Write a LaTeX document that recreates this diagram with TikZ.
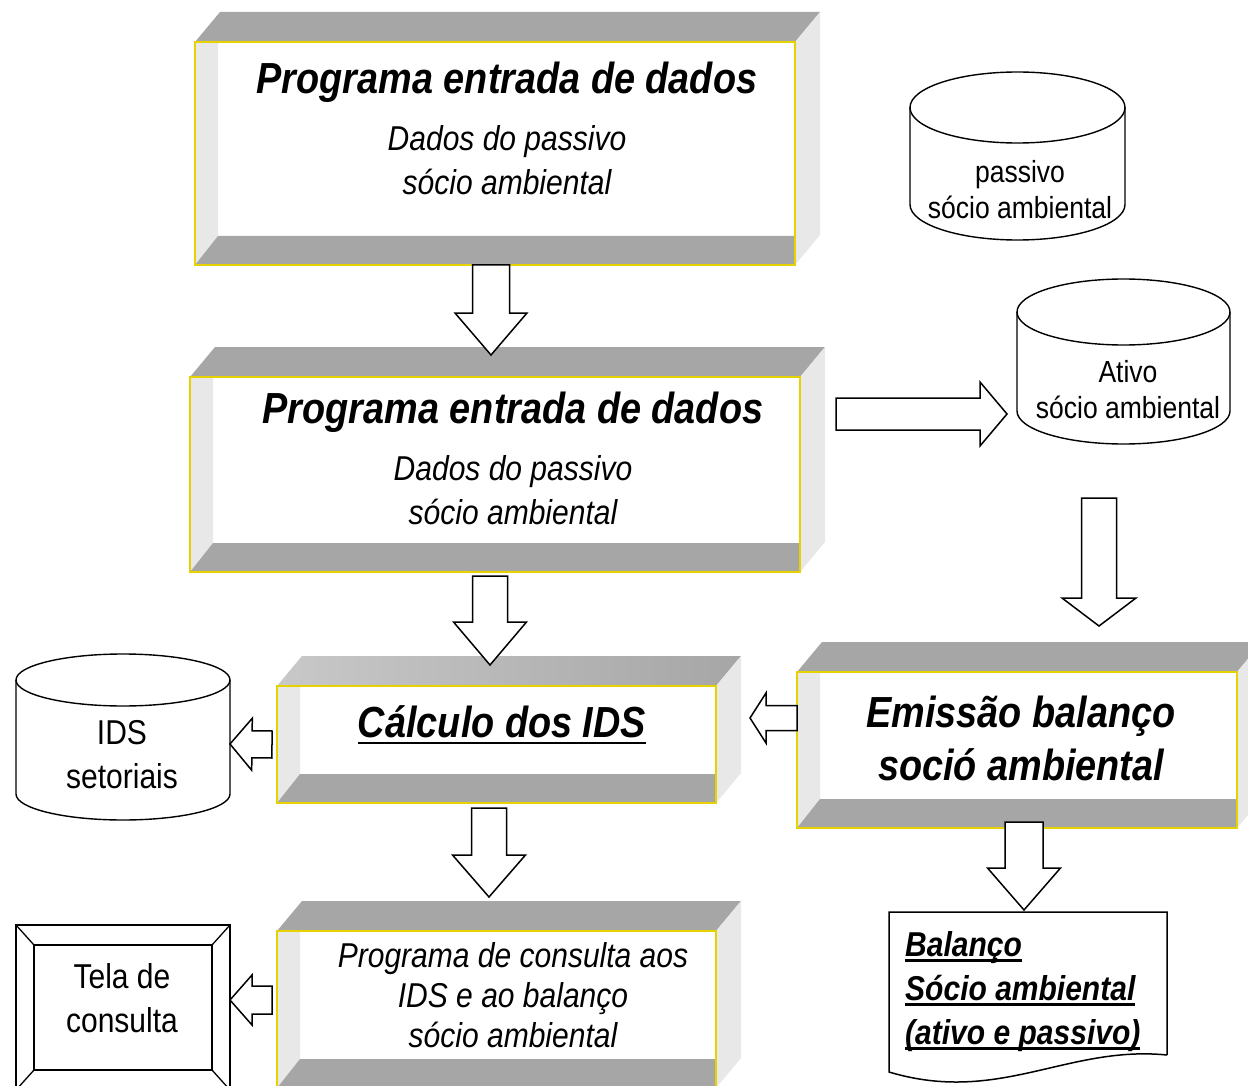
\documentclass[tikz,border=0pt]{standalone}
\usepackage{fontspec}
\setmainfont[FakeStretch=0.87]{Liberation Sans}
\usetikzlibrary{calc}
\definecolor{bandgray}{HTML}{A6A6A6}
\definecolor{sidegray}{HTML}{E8E8E8}
\definecolor{ybord}{HTML}{E6D200}
\newcommand\myul[2][-5pt]{\setbox0=\hbox{#2}\rlap{\rule[#1]{\wd0}{2.6pt}}\box0}
% bevelled box drawn round a named frame node
\newcommand\bevel[2]{%
  \path[#2] (#1.north west) -- ++(25pt,30pt) -- ($(#1.north east)+(25pt,30pt)$) -- (#1.north east) -- cycle;
  \fill[sidegray] (#1.north east) -- ++(25pt,30pt) -- ($(#1.south east)+(25pt,30pt)$) -- (#1.south east) -- cycle;
  \fill[white] (#1.north west) rectangle (#1.south east);
  \fill[sidegray] (#1.north west) -- ($(#1.north west)+(23pt,0pt)$) -- ($(#1.south west)+(23pt,29pt)$) -- (#1.south west) -- cycle;
  \fill[bandgray] (#1.south west) -- ($(#1.south west)+(23pt,29pt)$) -- ($(#1.south east)+(0pt,29pt)$) -- (#1.south east) -- cycle;
  \draw[ybord,line width=1.8pt] (#1.north west) rectangle (#1.south east);
}
% cylinder drawn round a named body node: name, x radius, y radius
\newcommand\cyl[3]{%
  \draw[cylline] ($(#1.north west)+(0pt,-#3)$) -- ($(#1.south west)+(0pt,#3)$)
     arc[start angle=180,end angle=360,x radius=#2,y radius=#3] -- ($(#1.north east)+(0pt,-#3)$);
  \draw[cylline] ($(#1.north)+(0pt,-#3)$) ellipse[x radius=#2,y radius=#3];
}
% block arrow: start, end, half shaft, half head, head length
\newcommand\blockarrow[5]{%
  \coordinate (tmpH) at ($(#2)!#5!(#1)$);
  \draw[blockarr] ($(#1)!#3!90:(#2)$) -- ($(tmpH)!#3!90:(#2)$) -- ($(tmpH)!#4!90:(#2)$) -- (#2)
     -- ($(tmpH)!#4!-90:(#2)$) -- ($(tmpH)!#3!-90:(#2)$) -- ($(#1)!#3!-90:(#2)$) -- cycle;
}
\begin{document}
\begin{tikzpicture}[x=1pt,y=-1pt,
  frame/.style={rectangle,inner sep=0pt,outer sep=0pt},
  cylline/.style={draw=black,line width=1.4pt},
  blockarr/.style={draw=black,fill=white,line width=1.5pt,line join=miter},
  ttl/.style={font=\fontsize{43.5}{53}\selectfont\bfseries\itshape,align=center,inner sep=0pt},
  sub/.style={font=\fontsize{34.5}{44}\selectfont\itshape,align=center,inner sep=0pt},
  plain/.style={font=\fontsize{34.5}{44}\selectfont,align=center,inner sep=0pt},
  small/.style={font=\fontsize{30.5}{36}\selectfont,align=center,inner sep=0pt}]
\clip (0,0) rectangle (1248,1086);
\fill[white] (0,0) rectangle (1248,1086);

% frames
\node[frame,minimum width=600pt,minimum height=223pt] (b1) at (495,153.5) {};
\node[frame,minimum width=610pt,minimum height=195pt] (b2) at (495,474.5) {};
\node[frame,minimum width=439pt,minimum height=117pt] (b3) at (496.5,744.5) {};
\node[frame,minimum width=440pt,minimum height=156pt] (b4) at (1017,750) {};
\node[frame,minimum width=439pt,minimum height=157pt] (b5) at (496.5,1009.5) {};

\bevel{b1}{fill=bandgray}
\bevel{b2}{fill=bandgray}
\bevel{b3}{left color=gray!43,right color=bandgray}
\bevel{b4}{fill=bandgray}
\bevel{b5}{fill=bandgray}

\node[ttl] (b1t) at (507,82) {Programa entrada de dados};
\node[sub] (b1s) at (507,160) {Dados do passivo\\sócio ambiental};
\node[ttl] (b2t) at (513,412) {Programa entrada de dados};
\node[sub] (b2s) at (513,490) {Dados do passivo\\sócio ambiental};
\node[ttl] (b3t) at (502,725) {\myul[-7pt]{Cálculo dos IDS}};
\node[ttl] (b4t) at (1021,738) {Emissão balanço\\soció ambiental};
\node[sub,font=\fontsize{34.5}{40}\selectfont\itshape] (b5t) at (513,995) {Programa de consulta aos\\IDS e ao balanço\\sócio ambiental};

% cylinders
\node[frame,minimum width=215pt,minimum height=168pt] (c1) at (1017.5,156) {};
\cyl{c1}{107.5pt}{35.5pt}
\node[small] (c1t) at (1020,190) {passivo\\sócio ambiental};
\node[frame,minimum width=213pt,minimum height=165pt] (c2) at (1123.5,361.5) {};
\cyl{c2}{106.5pt}{33pt}
\node[small] (c2t) at (1128,390) {Ativo\\sócio ambiental};
\node[frame,minimum width=214pt,minimum height=166pt] (c3) at (123,737) {};
\cyl{c3}{107pt}{26pt}
\node[plain] (c3t) at (122,755) {IDS\\setoriais};

% screen
\node[frame,draw=black,line width=1.5pt,minimum width=214pt,minimum height=165pt] (t1) at (123,1007.5) {};
\draw[line width=1.5pt] ($(t1.north west)+(18pt,-20pt)$) rectangle ($(t1.south east)+(-18pt,20pt)$);
\draw[line width=1.3pt] (t1.north west) -- ($(t1.north west)+(18pt,-20pt)$)
  (t1.north east) -- ($(t1.north east)+(-18pt,-20pt)$)
  (t1.south west) -- ($(t1.south west)+(18pt,20pt)$)
  (t1.south east) -- ($(t1.south east)+(-18pt,20pt)$);
\node[plain] (t1t) at (122,998) {Tela de\\consulta};

% document
\node[frame,minimum width=278pt,minimum height=143pt] (d1) at (1028,983.5) {};
\draw[line width=1.5pt,fill=white] (d1.south east) -- (d1.north east) -- (d1.north west) -- ($(d1.south west)+(0pt,-17pt)$)
  .. controls ($(d1.south west)+(110pt,-50pt)$) and ($(d1.south east)+(-100pt,10pt)$) .. (d1.south east);
\node[font=\fontsize{34.5}{44}\selectfont\bfseries\itshape,align=left,inner sep=0pt,anchor=west] (d1t) at (905,992)
  {\myul{Balanço}\\\myul{Sócio ambiental}\\\myul{(ativo e passivo)}};

% arrow end points
\coordinate (a1s) at ($(b1.south)+(-4pt,0pt)$);
\coordinate (a1e) at ($(b2.north)+(-4pt,22pt)$);
\coordinate (a2s) at ($(b2.south)+(-5pt,-4pt)$);
\coordinate (a2e) at ($(b3.north)+(-6.5pt,21pt)$);
\coordinate (a3s) at ($(b3.south)+(-7.5pt,-5pt)$);
\coordinate (a3e) at ($(b5.north)+(-7.5pt,34pt)$);
\coordinate (a4s) at ($(b2.east)+(36pt,60.5pt)$);
\coordinate (a4e) at ($(c2.west)+(-10pt,-52.5pt)$);
\coordinate (a5s) at ($(c2.south)+(-24.5pt,-54pt)$);
\coordinate (a5e) at ($(b4.north)+(82pt,46pt)$);
\coordinate (a6s) at ($(b4.west)+(0pt,32pt)$);
\coordinate (a6e) at ($(b3.east)+(34pt,26.5pt)$);
\coordinate (a7s) at ($(b3.west)+(-5pt,0pt)$);
\coordinate (a7e) at ($(c3.east)+(0pt,-7pt)$);
\coordinate (a8s) at ($(b5.west)+(-5pt,9.5pt)$);
\coordinate (a8e) at ($(t1.east)+(0pt,7.5pt)$);
\coordinate (a9s) at ($(b4.south)+(7pt,6pt)$);
\coordinate (a9e) at ($(d1.north)+(-4pt,2pt)$);

\blockarrow{a1s}{a1e}{18.5pt}{36pt}{42pt}
\blockarrow{a2s}{a2e}{17.5pt}{36.5pt}{43pt}
\blockarrow{a3s}{a3e}{17.5pt}{36.5pt}{42pt}
\blockarrow{a4s}{a4e}{16pt}{32pt}{27pt}
\blockarrow{a5s}{a5e}{17.5pt}{37pt}{28pt}
\blockarrow{a6s}{a6e}{12.5pt}{25pt}{16pt}
\blockarrow{a7s}{a7e}{13.5pt}{26pt}{22pt}
\blockarrow{a8s}{a8e}{14pt}{25pt}{22pt}
\blockarrow{a9s}{a9e}{19pt}{36.5pt}{42pt}
\end{tikzpicture}
\end{document}
